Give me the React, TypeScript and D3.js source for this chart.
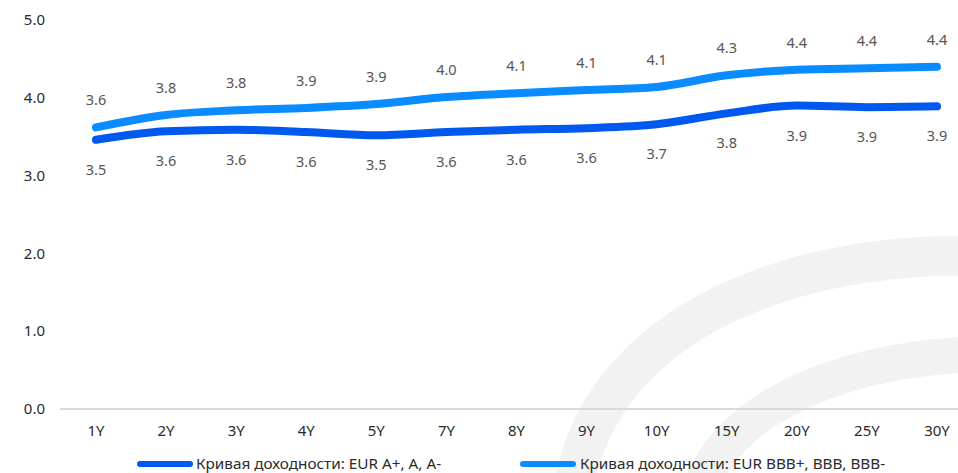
import React from "react";
import * as d3 from "d3";

const categories = ["1Y", "2Y", "3Y", "4Y", "5Y", "7Y", "8Y", "9Y", "10Y", "15Y", "20Y", "25Y", "30Y"];
const seriesA = [3.46, 3.57, 3.59, 3.56, 3.52, 3.56, 3.59, 3.61, 3.66, 3.8, 3.9, 3.88, 3.89];
const seriesBBB = [3.62, 3.78, 3.84, 3.87, 3.92, 4.01, 4.06, 4.1, 4.14, 4.29, 4.36, 4.38, 4.4];
const yTicks = [0, 1, 2, 3, 4, 5];
const legendNames = ["Кривая доходности: EUR A+, A, A-", "Кривая доходности: EUR BBB+, BBB, BBB-"];

const W = 958;
const H = 473;
const FONT = "'Noto Sans', sans-serif";
const COL_A = "#0059EE";
const COL_B = "#0A8BFF";

export default function App() {
  const x = d3.scalePoint<string>().domain(categories).range([96, 937]);
  const y = d3.scaleLinear().domain([0, 5]).range([409, 20]);
  const line = d3
    .line<number>()
    .x((_, i) => x(categories[i]) as number)
    .y((d) => y(d))
    .curve(d3.curveMonotoneX);

  return (
    <svg width={W} height={H} style={{ position: "absolute", left: 0, top: 0, display: "block" }} fontFamily={FONT}>
      <rect width={W} height={H} fill="#fff" />
      {/* decorative watermark */}
      <path d="M572,500 C592,330 780,252 975,256" fill="none" stroke="#f2f2f2" strokeWidth={40} />
      <path d="M697,500 C722,405 845,360 975,354" fill="none" stroke="#f2f2f2" strokeWidth={36} />

      {/* baseline */}
      <line x1={60} x2={W} y1={y(0)} y2={y(0)} stroke="#d9d9d9" strokeWidth={2} />

      {yTicks.map((t) => (
        <text key={t} x={45} y={y(t)} dy="0.35em" textAnchor="end" fontSize={15} fill="#2a2a2a">
          {t.toFixed(1)}
        </text>
      ))}
      {categories.map((c) => (
        <text key={c} x={x(c)} y={436} textAnchor="middle" fontSize={15} fill="#2a2a2a">
          {c}
        </text>
      ))}

      <path d={line(seriesBBB) || ""} fill="none" stroke={COL_B} strokeWidth={8} strokeLinecap="round" strokeLinejoin="round" />
      <path d={line(seriesA) || ""} fill="none" stroke={COL_A} strokeWidth={8} strokeLinecap="round" strokeLinejoin="round" />

      {seriesBBB.map((v, i) => (
        <text key={"b" + i} x={x(categories[i])} y={y(v) - 22} textAnchor="middle" fontSize={14.5} fill="#555">
          {v.toFixed(1)}
        </text>
      ))}
      {seriesA.map((v, i) => (
        <text key={"a" + i} x={x(categories[i])} y={y(v) + 35} textAnchor="middle" fontSize={14.5} fill="#555">
          {v.toFixed(1)}
        </text>
      ))}

      {/* legend */}
      <line x1={140} x2={190} y1={464} y2={464} stroke={COL_A} strokeWidth={6} strokeLinecap="round" />
      <text x={196} y={464} dy="0.35em" fontSize={15.3} fill="#2a2a2a">{legendNames[0]}</text>
      <line x1={523} x2={573} y1={464} y2={464} stroke={COL_B} strokeWidth={6} strokeLinecap="round" />
      <text x={580} y={464} dy="0.35em" fontSize={15.3} fill="#2a2a2a">{legendNames[1]}</text>
    </svg>
  );
}
